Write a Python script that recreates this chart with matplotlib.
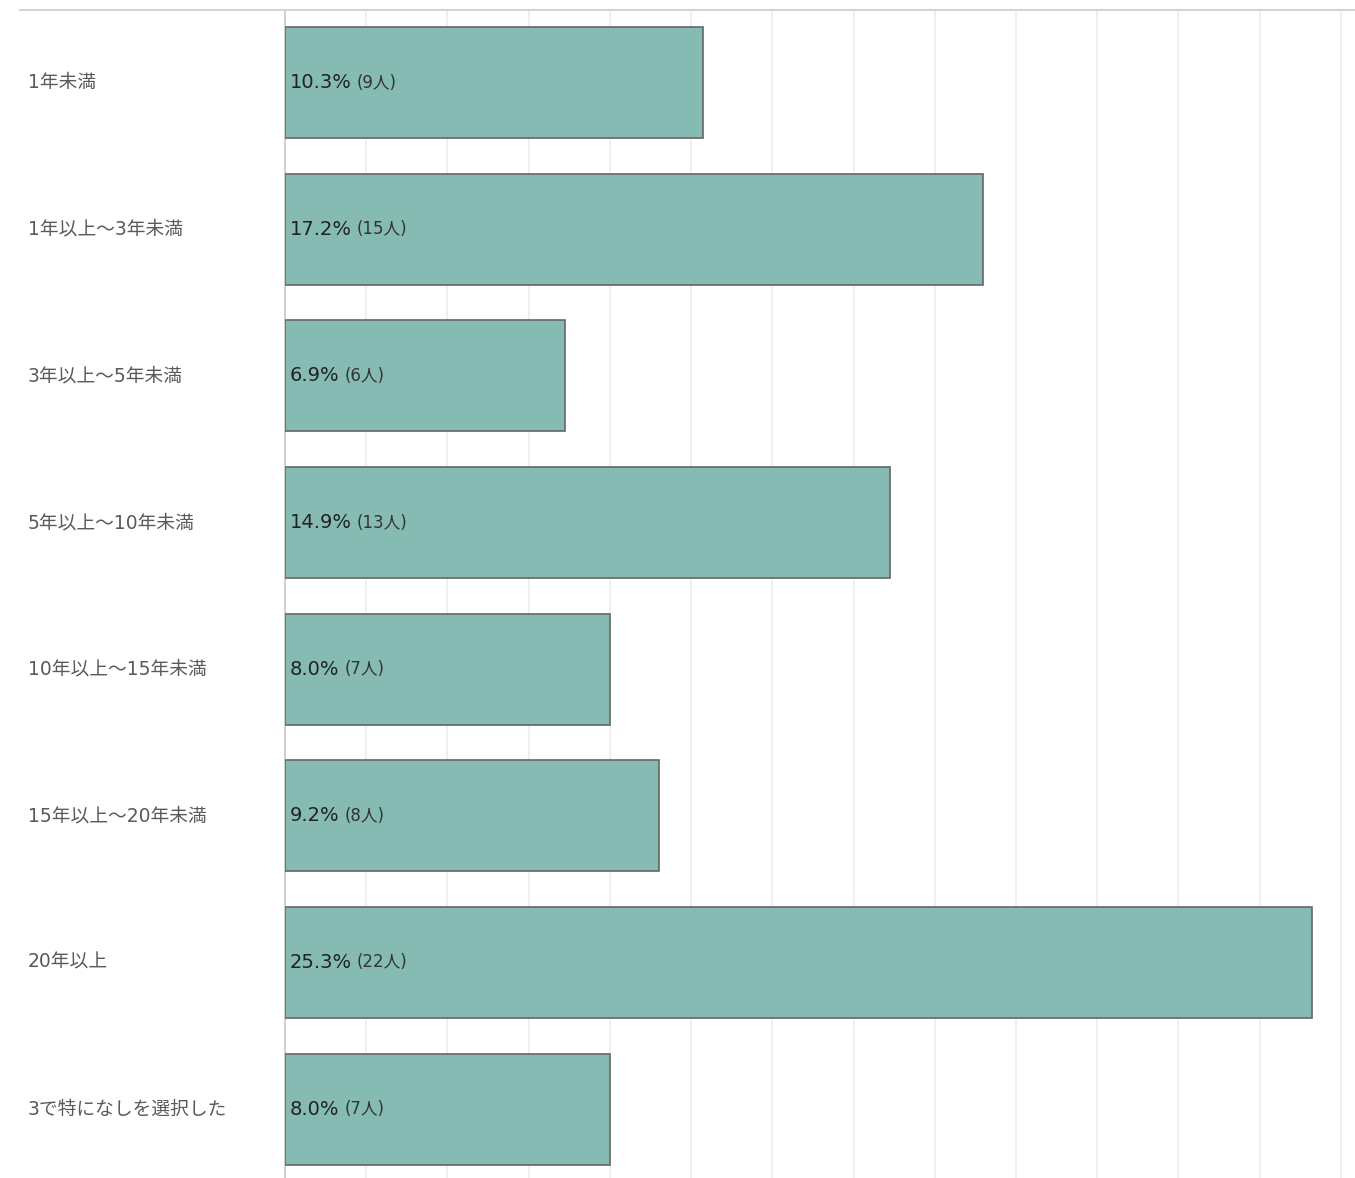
import matplotlib
matplotlib.use('Agg')
import matplotlib.pyplot as plt
from matplotlib.lines import Line2D

plt.rcParams['font.family'] = ['DejaVu Sans', 'Noto Sans CJK JP']

# --- data ---
categories = ['1年未満', '1年以上～3年未満', '3年以上～5年未満', '5年以上～10年未満',
              '10年以上～15年未満', '15年以上～20年未満', '20年以上', '3で特になしを選択した']
percent = [10.3, 17.2, 6.9, 14.9, 8.0, 9.2, 25.3, 8.0]
counts = [9, 15, 6, 13, 7, 8, 22, 7]

W, H = 1355, 1178
fig = plt.figure(figsize=(W / 100, H / 100), dpi=100)
ax = fig.add_axes([285 / W, 0, 1 - 285 / W, 1 - 10 / H])

y = list(range(len(categories)))
ax.barh(y, percent, height=0.757, color='#85bbb3', edgecolor='#666666', linewidth=1.2, zorder=3)

ax.set_xlim(0, 26.35)
ax.set_ylim(7.47, -0.495)
ax.set_xticks(range(2, 27, 2))
ax.grid(axis='x', color='#eeeeee', linewidth=1.3, zorder=0)
ax.tick_params(left=False, bottom=False, labelbottom=False, labelleft=False)
for s in ['top', 'right', 'bottom']:
    ax.spines[s].set_visible(False)
ax.spines['left'].set_color('#cccccc')
ax.spines['left'].set_linewidth(1.3)

# category labels at left
for yi, cat in zip(y, categories):
    ax.annotate(cat, xy=(0, yi), xycoords=('figure fraction', 'data'),
                xytext=(28, 0), textcoords='offset pixels',
                ha='left', va='center', fontsize=13.5, color='#5a5a5a')

# value labels: percentage + count
fig.canvas.draw()
renderer = fig.canvas.get_renderer()
for yi, p, c in zip(y, percent, counts):
    t = ax.annotate(f'{p:.1f}%', xy=(0, yi), xytext=(5, 0), textcoords='offset pixels',
                    ha='left', va='center', fontsize=14, color='#222222', zorder=5)
    bb = t.get_window_extent(renderer)
    x_end = ax.transData.inverted().transform((bb.x1, 0))[0]
    ax.annotate(f'({c}人)', xy=(x_end, yi), xytext=(5, 0), textcoords='offset pixels',
                ha='left', va='center', fontsize=12, color='#333333', zorder=5)

# top separator line
fig.add_artist(Line2D([20 / W, 1], [1 - 10 / H, 1 - 10 / H], transform=fig.transFigure,
                      color='#d4d4d4', linewidth=1.5))

fig.savefig('out.png', dpi=100)
